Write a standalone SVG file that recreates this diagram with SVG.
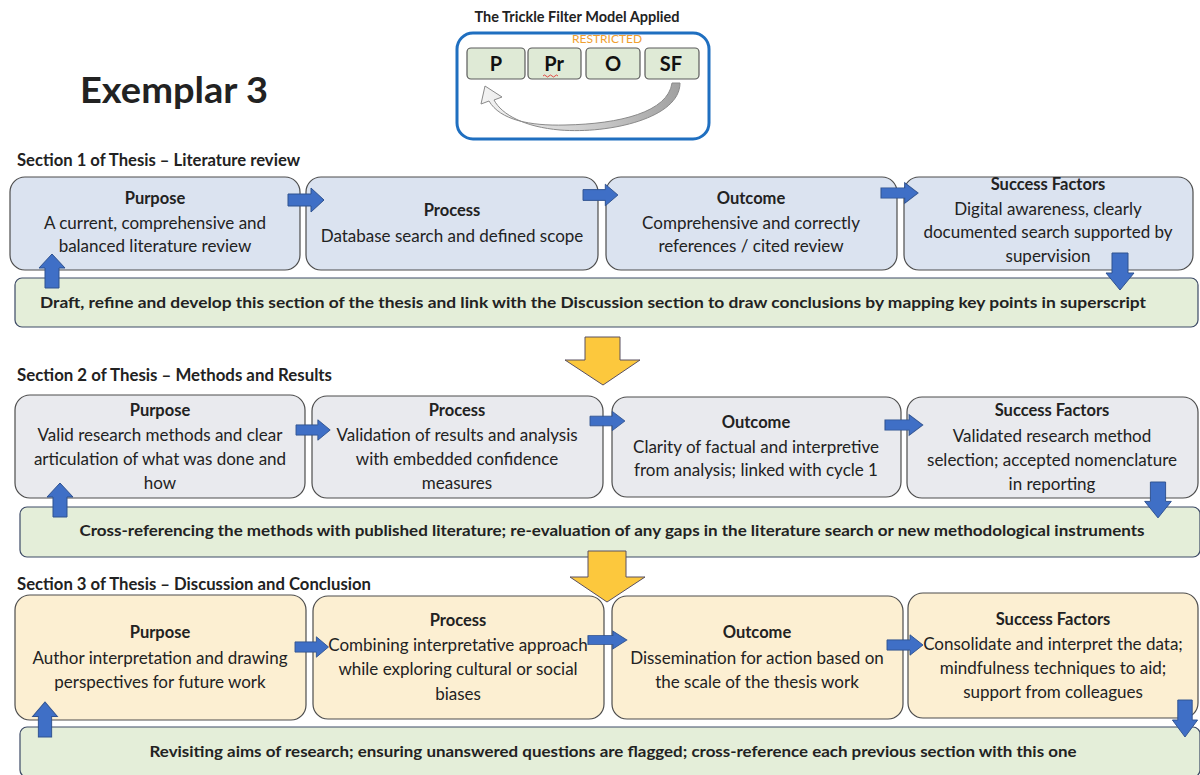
<svg xmlns="http://www.w3.org/2000/svg" width="1200" height="775" viewBox="0 0 1200 775">
  <defs>
    <style>
      text { font-family: Lato, "Open Sans", "Liberation Sans", sans-serif; fill: #222; }
      .hd { font-size: 16.5px; font-weight: bold; text-anchor: middle; }
      .bd { font-size: 17px; text-anchor: middle; }
      .sec { font-size: 16.5px; font-weight: bold; }
      .bar { font-size: 15.5px; font-weight: bold; text-anchor: middle; }
      .b1 { fill: #dbe3f0; stroke: #4d4d4d; stroke-width: 1.2; }
      .b2 { fill: #e9eaee; stroke: #4d4d4d; stroke-width: 1.2; }
      .b3 { fill: #fcefd2; stroke: #4d4d4d; stroke-width: 1.2; }
      .gb { fill: #e4eed9; stroke: #3d4a66; stroke-width: 1.2; }
      .ba { fill: #3f6fc6; stroke: #2f528f; stroke-width: 1; }
      .ya { fill: #fcc83d; stroke: #5a5060; stroke-width: 1; }
      .pk { fill: #dfead6; stroke: #5a5a5a; stroke-width: 1.2; }
      .pl { font-size: 20px; font-weight: bold; text-anchor: middle; fill: #111; }
    </style>
    <!-- block arrows -->
    <path id="ar" d="M0,-6 H23 V-12 L36,0 L23,12 V6 H0 Z"/>
    <path id="au" d="M-7,0 V-20 H-13 L0,-34 L13,-20 H7 V0 Z"/>
    <path id="ad" d="M-8,0 V20 H-14 L0,37 L14,20 H8 V0 Z"/>
    <linearGradient id="curl" x1="0" y1="0" x2="1" y2="0">
      <stop offset="0" stop-color="#f4f4f4"/>
      <stop offset="0.6" stop-color="#c8c8c8"/>
      <stop offset="1" stop-color="#a0a0a0"/>
    </linearGradient>
  </defs>

  <rect width="1200" height="775" fill="#ffffff"/>

  <!-- heading -->
  <text x="80" y="103" font-size="37" font-weight="bold" fill="#111" textLength="188" lengthAdjust="spacingAndGlyphs">Exemplar 3</text>

  <!-- trickle filter model -->
  <g id="model">
    <text x="577" y="22" font-size="14.5" font-weight="bold" text-anchor="middle" fill="#111" textLength="205" lengthAdjust="spacingAndGlyphs">The Trickle Filter Model Applied</text>
    <rect x="457" y="33" width="252" height="106" rx="16" fill="#ffffff" stroke="#1f6fc0" stroke-width="3"/>
    <text x="607" y="43" font-size="12" text-anchor="middle" style="fill:#f0a030">RESTRICTED</text>
    <rect class="pk" x="467" y="48" width="58" height="31" rx="4"/>
    <rect class="pk" x="528" y="48" width="53" height="31" rx="4"/>
    <rect class="pk" x="586" y="48" width="54" height="31" rx="4"/>
    <rect class="pk" x="645" y="48" width="54" height="31" rx="4"/>
    <text class="pl" x="496" y="71">P</text>
    <text class="pl" x="554" y="71">Pr</text>
    <text class="pl" x="613" y="71">O</text>
    <text class="pl" x="671" y="71">SF</text>
    <path d="M543,76 q1.5,-2 3,0 t3,0 t3,0 t3,0 t3,0" fill="none" stroke="#e02020" stroke-width="0.8"/>
    <path d="M672,83 L680,83 C680,118 610,134 560,130 C525,127 502,115 494,100 L502,97 L485,86 L481,104 L489,101 C500,120 530,126 565,125 C620,124 668,112 672,83 Z" fill="url(#curl)" stroke="#8a8a8a" stroke-width="1"/>
  </g>

  <!-- section labels -->
  <text class="sec" x="17" y="166" textLength="283" lengthAdjust="spacingAndGlyphs">Section 1 of Thesis – Literature review</text>
  <text class="sec" x="17" y="381" textLength="315" lengthAdjust="spacingAndGlyphs">Section 2 of Thesis – Methods and Results</text>
  <text class="sec" x="17" y="590" textLength="354" lengthAdjust="spacingAndGlyphs">Section 3 of Thesis – Discussion and Conclusion</text>

  <!-- section 1 -->
  <g id="s1-purpose">
    <rect class="b1" x="10" y="177" width="290" height="93" rx="15"/>
    <text class="hd" x="155" y="204">Purpose</text>
    <text class="bd" x="155" y="229">A current, comprehensive and</text>
    <text class="bd" x="155" y="252">balanced literature review</text>
  </g>
  <g id="s1-process">
    <rect class="b1" x="306" y="177" width="292" height="93" rx="15"/>
    <text class="hd" x="452" y="216">Process</text>
    <text class="bd" x="452" y="242">Database search and defined scope</text>
  </g>
  <g id="s1-outcome">
    <rect class="b1" x="606" y="177" width="291" height="93" rx="15"/>
    <text class="hd" x="751" y="204">Outcome</text>
    <text class="bd" x="751" y="229">Comprehensive and correctly</text>
    <text class="bd" x="751" y="252">references / cited review</text>
  </g>
  <g id="s1-success">
    <rect class="b1" x="904" y="177" width="289" height="93" rx="15"/>
    <text class="hd" x="1048" y="190">Success Factors</text>
    <text class="bd" x="1048" y="215">Digital awareness, clearly</text>
    <text class="bd" x="1048" y="238">documented search supported by</text>
    <text class="bd" x="1048" y="262">supervision</text>
  </g>
  <g id="s1-bar">
    <rect class="gb" x="15" y="278" width="1183" height="49" rx="7"/>
    <text class="bar" x="593" y="308" textLength="1106" lengthAdjust="spacingAndGlyphs">Draft, refine and develop this section of the thesis and link with the Discussion section to draw conclusions by mapping key points in superscript</text>
  </g>

  <!-- section 2 -->
  <g id="s2-purpose">
    <rect class="b2" x="15" y="395" width="290" height="103" rx="15"/>
    <text class="hd" x="160" y="416">Purpose</text>
    <text class="bd" x="160" y="441">Valid research methods and clear</text>
    <text class="bd" x="160" y="465">articulation of what was done and</text>
    <text class="bd" x="160" y="489">how</text>
  </g>
  <g id="s2-process">
    <rect class="b2" x="312" y="396" width="291" height="102" rx="15"/>
    <text class="hd" x="457" y="416">Process</text>
    <text class="bd" x="457" y="441">Validation of results and analysis</text>
    <text class="bd" x="457" y="465">with embedded confidence</text>
    <text class="bd" x="457" y="489">measures</text>
  </g>
  <g id="s2-outcome">
    <rect class="b2" x="612" y="397" width="289" height="100" rx="15"/>
    <text class="hd" x="756" y="428">Outcome</text>
    <text class="bd" x="756" y="453">Clarity of factual and interpretive</text>
    <text class="bd" x="756" y="476">from analysis; linked with cycle 1</text>
  </g>
  <g id="s2-success">
    <rect class="b2" x="907" y="397" width="291" height="101" rx="15"/>
    <text class="hd" x="1052" y="416">Success Factors</text>
    <text class="bd" x="1052" y="442">Validated research method</text>
    <text class="bd" x="1052" y="466">selection; accepted nomenclature</text>
    <text class="bd" x="1052" y="490">in reporting</text>
  </g>
  <g id="s2-bar">
    <rect class="gb" x="20" y="507" width="1180" height="50" rx="7"/>
    <text class="bar" x="612" y="536" textLength="1065" lengthAdjust="spacingAndGlyphs">Cross-referencing the methods with published literature; re-evaluation of any gaps in the literature search or new methodological instruments</text>
  </g>

  <!-- section 3 -->
  <g id="s3-purpose">
    <rect class="b3" x="15" y="595" width="291" height="125" rx="15"/>
    <text class="hd" x="160" y="638">Purpose</text>
    <text class="bd" x="160" y="664">Author interpretation and drawing</text>
    <text class="bd" x="160" y="688">perspectives for future work</text>
  </g>
  <g id="s3-process">
    <rect class="b3" x="313" y="596" width="291" height="123" rx="15"/>
    <text class="hd" x="458" y="626">Process</text>
    <text class="bd" x="458" y="651">Combining interpretative approach</text>
    <text class="bd" x="458" y="675">while exploring cultural or social</text>
    <text class="bd" x="458" y="700">biases</text>
  </g>
  <g id="s3-outcome">
    <rect class="b3" x="612" y="596" width="291" height="123" rx="15"/>
    <text class="hd" x="757" y="638">Outcome</text>
    <text class="bd" x="757" y="664">Dissemination for action based on</text>
    <text class="bd" x="757" y="688">the scale of the thesis work</text>
  </g>
  <g id="s3-success">
    <rect class="b3" x="908" y="593" width="290" height="125" rx="15"/>
    <text class="hd" x="1053" y="625">Success Factors</text>
    <text class="bd" x="1053" y="650">Consolidate and interpret the data;</text>
    <text class="bd" x="1053" y="674">mindfulness techniques to aid;</text>
    <text class="bd" x="1053" y="698">support from colleagues</text>
  </g>
  <g id="s3-bar">
    <rect class="gb" x="20" y="727" width="1180" height="50" rx="7"/>
    <text class="bar" x="613" y="757" textLength="927" lengthAdjust="spacingAndGlyphs">Revisiting aims of research; ensuring unanswered questions are flagged; cross-reference each previous section with this one</text>
  </g>

  <!-- connectors -->
  <g id="connectors">
    <!-- section 1 -->
    <use href="#ar" class="ba" transform="translate(288,200)"/>
    <use href="#ar" class="ba" transform="translate(583,195) scale(0.97,0.9)"/>
    <use href="#ar" class="ba" transform="translate(881,193) scale(1.03,0.85)"/>
    <use href="#au" class="ba" transform="translate(52,288)"/>
    <use href="#ad" class="ba" transform="translate(1120,253)"/>
    <!-- section 2 -->
    <use href="#ar" class="ba" transform="translate(296,430) scale(0.95,0.85)"/>
    <use href="#ar" class="ba" transform="translate(590,421) scale(0.97,0.8)"/>
    <use href="#ar" class="ba" transform="translate(885,425) scale(1.05,0.85)"/>
    <use href="#au" class="ba" transform="translate(60,517)"/>
    <use href="#ad" class="ba" transform="translate(1158,482) scale(0.95,0.97)"/>
    <!-- section 3 -->
    <use href="#ar" class="ba" transform="translate(295,647) scale(0.93,0.85)"/>
    <use href="#ar" class="ba" transform="translate(588,640) scale(1.08,0.75)"/>
    <use href="#ar" class="ba" transform="translate(887,645) scale(1.0,0.85)"/>
    <use href="#au" class="ba" transform="translate(45,737) scale(0.95,1.03)"/>
    <use href="#ad" class="ba" transform="translate(1185,700) scale(0.9,1)"/>
    <!-- between sections -->
    <path class="ya" d="M585,337 H620 V360 H640 L603,385 L565,360 H585 Z"/>
    <path class="ya" d="M588,551 H626 V577 H645 L607,602 L570,577 H588 Z"/>
  </g>
</svg>
